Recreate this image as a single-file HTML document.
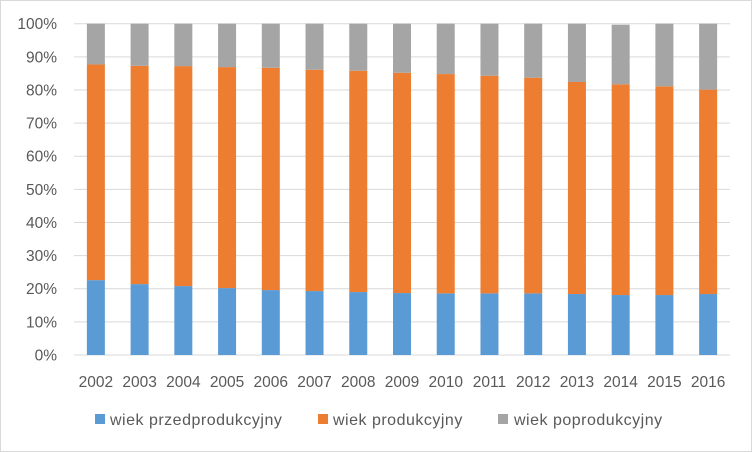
<!DOCTYPE html>
<html><head><meta charset="utf-8"><style>
body{margin:0;background:#fff}
svg{display:block;font-family:"Liberation Sans",sans-serif}
</style></head><body>
<svg id="chart" width="752" height="452" viewBox="0 0 752 452">
<rect x="0.5" y="0.5" width="751" height="451" fill="#fff" stroke="#d9d9d9"/>
<g id="grid"></g><g id="bars"></g><g id="labels"></g>
<g font-size="16" letter-spacing="0.5" fill="#595959">
<rect x="95" y="414" width="10" height="10" fill="#5b9bd5"/>
<text x="110" y="425">wiek przedprodukcyjny</text>
<rect x="318" y="414" width="10" height="10" fill="#ed7d31"/>
<text x="333" y="425">wiek produkcyjny</text>
<rect x="498" y="414" width="10" height="10" fill="#a5a5a5"/>
<text x="514" y="425">wiek poprodukcyjny</text>
</g>
</svg>
<script>
const years=["2002","2003","2004","2005","2006","2007","2008","2009","2010","2011","2012","2013","2014","2015","2016"];
const preProd=[22.6,21.4,20.8,20.2,19.6,19.3,19.0,18.7,18.6,18.6,18.6,18.4,18.1,18.1,18.4];
const prod=[65.1,65.9,66.4,66.7,67.1,66.8,66.8,66.5,66.2,65.7,65.1,64.0,63.6,63.0,61.7];
const postProd=[12.3,12.7,12.8,13.1,13.3,13.9,14.2,14.8,15.2,15.7,16.3,17.6,18.0,18.9,19.9];
const yTicks=[0,10,20,30,40,50,60,70,80,90,100];
const NS="http://www.w3.org/2000/svg";
const x0=74,x1=730,yB=355,yT=23.7;
const band=(x1-x0)/years.length;
const xC=i=>x0+band*(i+0.5);
const y=v=>yB-(v/100)*(yB-yT);
const g=document.getElementById('grid'),b=document.getElementById('bars'),l=document.getElementById('labels');
function mk(tag,attrs,parent){const e=document.createElementNS(NS,tag);for(const k in attrs)e.setAttribute(k,attrs[k]);parent.appendChild(e);return e;}
yTicks.forEach(t=>{
 const ln=mk('line',{x1:x0,x2:x1,y1:y(t),y2:y(t),stroke:'#d9d9d9','stroke-width':1},g);
 
 
 const tx=mk('text',{x:57,y:y(t)+5.5,'text-anchor':'end','font-size':15.5,fill:'#595959'},l);
 tx.textContent=t+'%';
 
 
});
const bw=18;
years.forEach((yr,i)=>{
 const segs=[[preProd[i],'#5b9bd5','przedprodukcyjny'],[prod[i],'#ed7d31','produkcyjny'],[postProd[i],'#a5a5a5','poprodukcyjny']];
 let acc=0;
 segs.forEach(s=>{
  const r=mk('rect',{x:xC(i)-bw/2,y:y(acc+s[0]),width:bw,height:y(acc)-y(acc+s[0]),fill:s[1]},b);
  
  
  acc+=s[0];
 });
 const tx=mk('text',{x:xC(i),y:387,'text-anchor':'middle','font-size':15.5,fill:'#595959'},l);
 tx.textContent=yr;
 
 
});
</script>
</body></html>
